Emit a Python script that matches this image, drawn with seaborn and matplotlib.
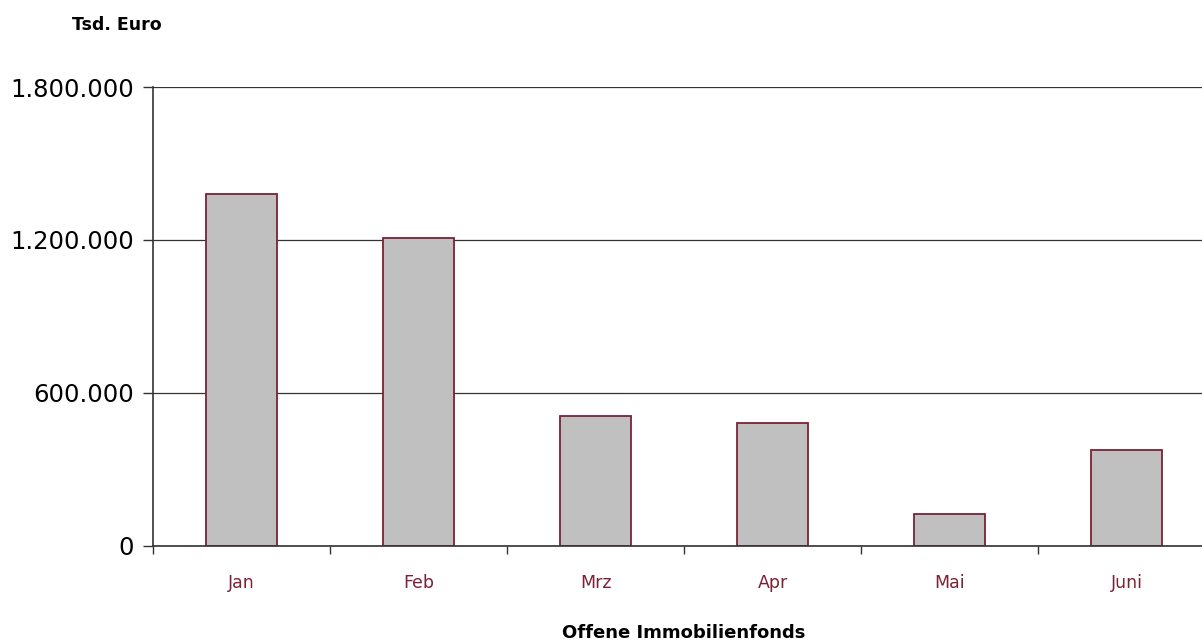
import pandas as pd
import seaborn as sns
import matplotlib.pyplot as plt
from matplotlib.ticker import FuncFormatter, FixedLocator

months = ["Jan", "Feb", "Mrz", "Apr", "Mai", "Juni"]
values = [1380000, 1208000, 510000, 482000, 126000, 377000]
y_ticks = [0, 600000, 1200000, 1800000]

maroon = "#7a2236"

sns.set_theme(style="white")
plt.rcParams["font.family"] = ["DejaVu Sans"]

df = pd.DataFrame({"Monat": months, "Wert": values})

fig = plt.figure(figsize=(12.02, 6.44), dpi=100)
ax = fig.add_axes([0.1273, 0.1522, 0.8835, 0.7127])

sns.barplot(data=df, x="Monat", y="Wert", color="#c0c0c0", width=0.4,
            edgecolor=maroon, linewidth=1.3, saturation=1, ax=ax)

ax.set_xlim(-0.5, len(months) - 0.5)
ax.set_ylim(0, 1800000)
ax.set_yticks(y_ticks)
ax.yaxis.set_major_formatter(FuncFormatter(lambda v, p: f"{int(v):,}".replace(",", ".")))
ax.yaxis.grid(True, color="#333333", linewidth=0.9)
ax.set_axisbelow(True)

for s in ["top", "right"]:
    ax.spines[s].set_visible(False)
for s in ["left", "bottom"]:
    ax.spines[s].set_color("#333333")
    ax.spines[s].set_linewidth(1.2)

ax.tick_params(axis="y", left=True, length=7, width=1, color="#333333",
               labelsize=17.5, pad=7, labelcolor="black")
ax.tick_params(axis="x", which="major", bottom=True, length=0, labelsize=12.5,
               pad=20, labelcolor=maroon)
ax.xaxis.set_minor_locator(FixedLocator([i - 0.5 for i in range(len(months) + 1)]))
ax.tick_params(axis="x", which="minor", bottom=True, length=6, width=1,
               color="#333333", direction="out")

ax.set_xlabel("Offene Immobilienfonds", fontsize=13, fontweight="bold",
              labelpad=23, color="black")
ax.set_ylabel("")
fig.text(0.06, 0.961, "Tsd. Euro", fontsize=12.5, fontweight="bold",
         ha="left", va="center", color="black")

fig.savefig("out.png", dpi=100)
